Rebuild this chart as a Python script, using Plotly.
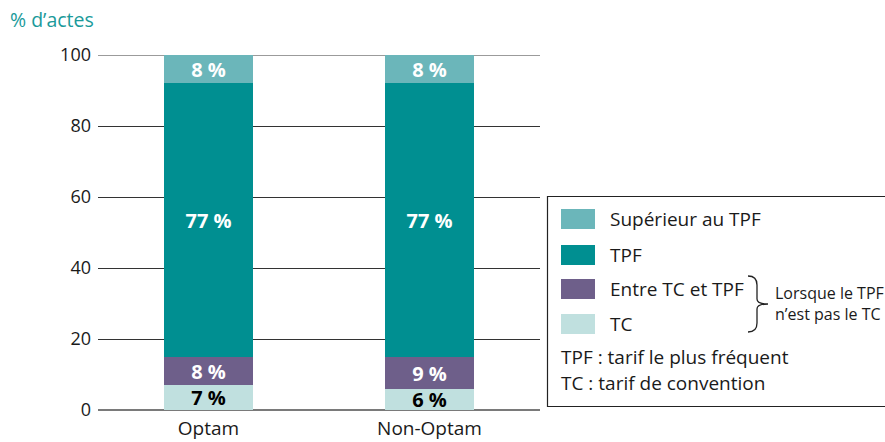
import plotly.graph_objects as go

# ---- data ----
groups = ["Optam", "Non-Optam"]
series_names = ["TC", "Entre TC et TPF", "TPF", "Supérieur au TPF"]
tc_vals = [7, 6]
entre_vals = [8, 9]
tpf_vals = [77, 77]
sup_vals = [8, 8]
series_values = [tc_vals, entre_vals, tpf_vals, sup_vals]
series_colors = ["#c0e0df", "#6e5f8a", "#008f91", "#6bb6ba"]
label_colors = ["#000000", "#ffffff", "#ffffff", "#ffffff"]
y_ticks = [0, 20, 40, 60, 80, 100]
notes = ["TPF : tarif le plus fréquent", "TC : tarif de convention"]
brace_note = "Lorsque le TPF<br>n’est pas le TC"
y_title = "% d’actes"

FONT = "Open Sans"
W, H = 885, 442
L, R, T, B = 98, 540, 55, 410  # plot area in pixels


def px(x):
    return (x - L) / (R - L)


def py(y):
    return (B - y) / (B - T)


fig = go.Figure()
for name, vals, col, lcol in zip(series_names, series_values, series_colors, label_colors):
    fig.add_trace(go.Bar(
        x=groups, y=vals, name=name, width=0.4,
        marker=dict(color=col, line=dict(width=0)),
        text=[f"{v} %" for v in vals], texttemplate="%{text}",
        textposition="inside", insidetextanchor="middle",
        textfont=dict(family=FONT, size=20, color=lcol, weight="bold"),
        showlegend=False, hoverinfo="skip",
    ))

shapes = []
annotations = []

# top line at 100 and frame of the key
shapes.append(dict(type="line", xref="paper", yref="y", x0=0, x1=1, y0=100, y1=100,
                   line=dict(color="#7a7a7a", width=1.6), layer="below"))
shapes.append(dict(type="rect", xref="paper", yref="paper",
                   x0=px(547.5), x1=px(892), y0=py(196.5), y1=py(406.5),
                   line=dict(color="#222", width=1.2), fillcolor="white"))

# key entries, top to bottom
key_rows = [(219, 3), (255, 2), (289, 1), (324, 0)]
for yc, idx in key_rows:
    shapes.append(dict(type="rect", xref="paper", yref="paper",
                       x0=px(561), x1=px(595), y0=py(yc - 10), y1=py(yc + 10),
                       line=dict(width=0), fillcolor=series_colors[idx]))
    annotations.append(dict(xref="paper", yref="paper", x=px(608), y=py(yc),
                            text=series_names[idx], showarrow=False,
                            xanchor="left", yanchor="middle",
                            font=dict(family=FONT, size=19, color="#1a1a1a")))

for yc, txt in zip([357, 383], notes):
    annotations.append(dict(xref="paper", yref="paper", x=px(559), y=py(yc),
                            text=txt, showarrow=False, xanchor="left", yanchor="middle",
                            font=dict(family=FONT, size=19, color="#1a1a1a")))

# brace grouping the two lower entries
bx0, bx1, btip = 748, 757, 768
by0, bym, by1 = 276, 304, 332
brace = (f"M {px(bx0)},{py(by0)} Q {px(bx1)},{py(by0)} {px(bx1)},{py(by0 + 9)} "
         f"L {px(bx1)},{py(bym - 5)} Q {px(bx1)},{py(bym)} {px(btip)},{py(bym)} "
         f"Q {px(bx1)},{py(bym)} {px(bx1)},{py(bym + 5)} "
         f"L {px(bx1)},{py(by1 - 9)} Q {px(bx1)},{py(by1)} {px(bx0)},{py(by1)}")
shapes.append(dict(type="path", xref="paper", yref="paper", path=brace,
                   line=dict(color="#222", width=1.3)))
annotations.append(dict(xref="paper", yref="paper", x=px(773), y=py(303),
                        text=brace_note, showarrow=False, xanchor="left", yanchor="middle",
                        align="left",
                        font=dict(family=FONT, size=16, color="#1a1a1a")))

# axis title
annotations.append(dict(xref="paper", yref="paper", x=px(8), y=py(20),
                        text=y_title, showarrow=False, xanchor="left", yanchor="middle",
                        font=dict(family=FONT, size=19.5, color="#1a9a9a")))

fig.update_layout(
    width=W, height=H,
    margin=dict(l=L, r=W - R, t=T, b=H - B, pad=0, autoexpand=False),
    barmode="stack", bargap=0,
    plot_bgcolor="white", paper_bgcolor="white",
    font=dict(family=FONT, size=18, color="#1a1a1a"),
    uniformtext=dict(minsize=20, mode="show"),
    shapes=shapes, annotations=annotations,
    xaxis=dict(range=[-0.5, 1.5], showgrid=False, showline=False, ticks="",
               ticklabelstandoff=5, automargin=False,
               tickfont=dict(family=FONT, size=19, color="#1a1a1a")),
    yaxis=dict(range=[0, 100], tickvals=y_ticks, showgrid=True,
               gridcolor="#333333", gridwidth=1, automargin=False,
               zeroline=True, zerolinecolor="#7a7a7a", zerolinewidth=2,
               showline=False, ticks="", ticklabelstandoff=6,
               tickfont=dict(family=FONT, size=18, color="#1a1a1a")),
)

fig.write_html("out.html")
